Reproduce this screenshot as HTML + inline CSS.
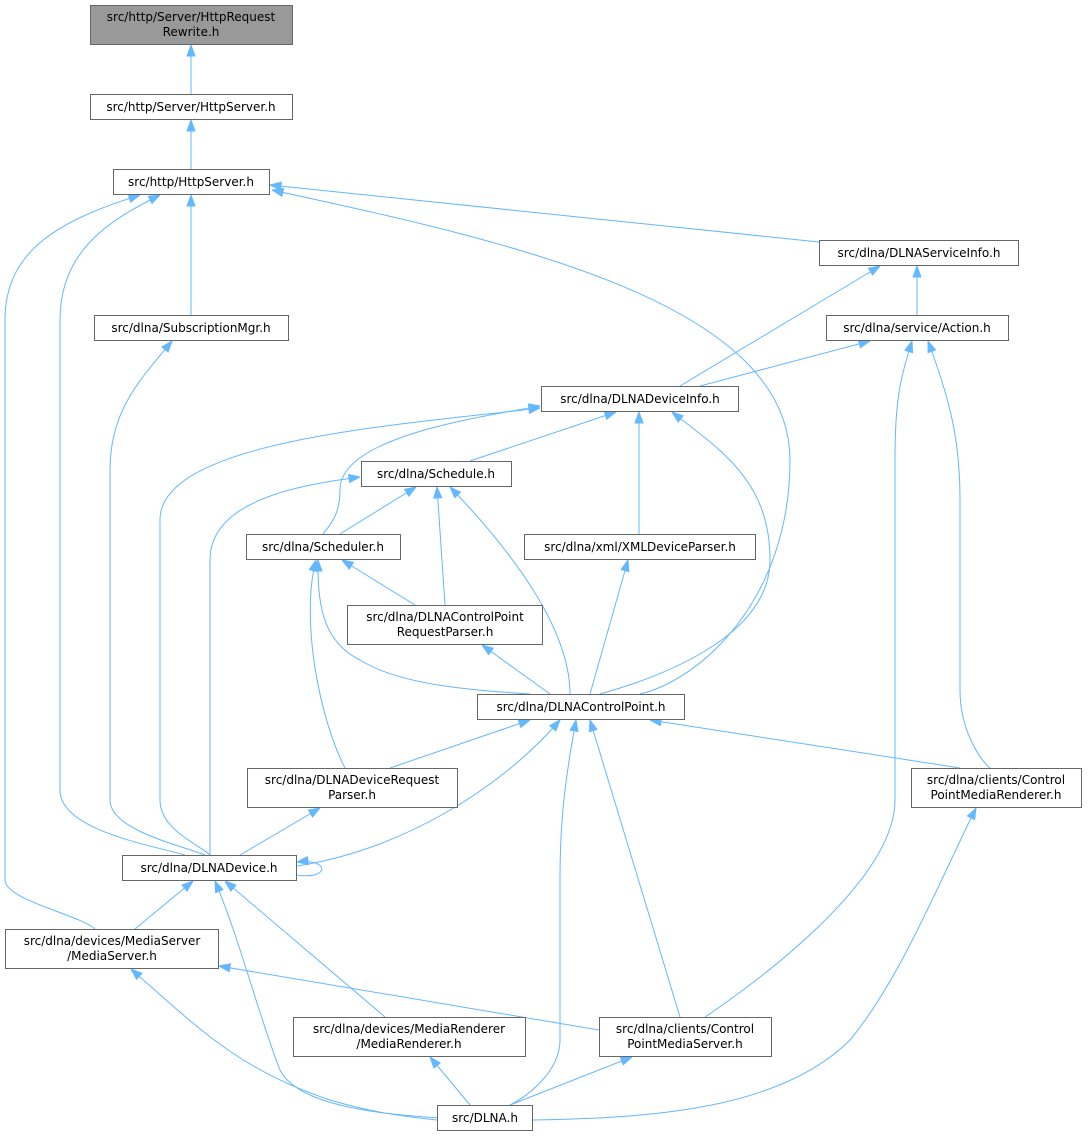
<!DOCTYPE html>
<html><head><meta charset="utf-8"><style>
html,body{margin:0;padding:0;background:#fff;}
svg text{font-family:"DejaVu Sans","Liberation Sans",sans-serif;font-size:12px;fill:#000;}
path.e{fill:none;stroke:#63b8ff;stroke-width:1;marker-start:url(#a);}
</style></head><body>
<svg width="1089" height="1136" viewBox="0 0 1089 1136" xmlns="http://www.w3.org/2000/svg">
<defs>
<marker id="a" markerWidth="12" markerHeight="12" refX="0" refY="5" orient="auto" markerUnits="userSpaceOnUse">
<path d="M11,1 L0,5 L11,9 Z" fill="#63b8ff" stroke="#63b8ff"/>
</marker>
</defs>
<g>
<path class="e" d="M191,45 L191,94"/>
<path class="e" d="M191,120 L191,169"/>
<path class="e" d="M270,185 L819,242"/>
<path class="e" d="M191,195 L191,315"/>
<path class="e" d="M272,190 C500,240 790,300 790,460 C790,600 700,680 640,694"/>
<path class="e" d="M160,195 C110,220 60,250 60,320 L60,790 C60,830 150,845 185,855"/>
<path class="e" d="M140,195 C60,220 5,250 5,320 L5,880 C5,900 80,915 95,929"/>
<path class="e" d="M917,266 L917,315"/>
<path class="e" d="M880,266 L680,386"/>
<path class="e" d="M172,341 C140,380 110,410 110,470 L110,800 C110,830 180,845 205,855"/>
<path class="e" d="M870,341 L700,386"/>
<path class="e" d="M912,341 C900,380 895,400 895,460 L895,800 C895,880 760,980 705,1017"/>
<path class="e" d="M928,341 C950,400 960,440 960,500 L960,690 C960,730 980,760 990,768"/>
<path class="e" d="M616,412 L470,461"/>
<path class="e" d="M540,406 C460,420 340,440 340,490 C340,515 330,525 323,534"/>
<path class="e" d="M639,412 L639,534"/>
<path class="e" d="M672,412 C720,450 770,480 770,560 C770,640 650,680 600,694"/>
<path class="e" d="M540,408 C400,425 160,440 160,520 L160,800 C160,830 200,845 210,855"/>
<path class="e" d="M416,487 L340,534"/>
<path class="e" d="M437,487 L445,605"/>
<path class="e" d="M450,487 C530,570 570,640 570,694"/>
<path class="e" d="M360,477 C300,485 210,500 210,560 L210,855"/>
<path class="e" d="M342,560 L415,605"/>
<path class="e" d="M318,560 C318,600 320,640 360,660 C400,685 470,690 530,694"/>
<path class="e" d="M316,560 C300,620 320,720 345,768"/>
<path class="e" d="M628,560 L590,694"/>
<path class="e" d="M482,645 L550,694"/>
<path class="e" d="M530,720 L390,768"/>
<path class="e" d="M650,720 L960,768"/>
<path class="e" d="M560,720 C500,790 400,850 297,866"/>
<path class="e" d="M590,720 L680,1017"/>
<path class="e" d="M576,720 C565,780 560,820 560,880 L560,1040 C560,1070 530,1095 510,1105"/>
<path class="e" d="M320,808 L240,855"/>
<path class="e" d="M976,808 C940,880 900,980 850,1040 C780,1110 650,1118 533,1120"/>
<path class="e" d="M297,862 C330,858 330,880 297,875"/>
<path class="e" d="M193,881 L135,929"/>
<path class="e" d="M225,881 L385,1017"/>
<path class="e" d="M215,881 C240,940 260,1020 280,1070 C300,1110 400,1115 440,1118"/>
<path class="e" d="M219,966 L599,1030"/>
<path class="e" d="M131,969 C200,1030 240,1070 330,1100 C380,1115 420,1118 437,1120"/>
<path class="e" d="M430,1057 L470,1105"/>
<path class="e" d="M632,1057 L510,1105"/>
</g>
<g stroke="#666" stroke-width="1" fill="#fff">
<rect x="90.5" y="5.5" width="202" height="39" fill="#999"/>
<rect x="90.5" y="94.5" width="202" height="25"/>
<rect x="113.5" y="169.5" width="156" height="25"/>
<rect x="819.5" y="240.5" width="199" height="25"/>
<rect x="94.5" y="315.5" width="194" height="25"/>
<rect x="826.5" y="315.5" width="182" height="25"/>
<rect x="541.5" y="386.5" width="197" height="25"/>
<rect x="361.5" y="461.5" width="150" height="25"/>
<rect x="246.5" y="534.5" width="154" height="25"/>
<rect x="524.5" y="534.5" width="231" height="25"/>
<rect x="347.5" y="605.5" width="195" height="39"/>
<rect x="477.5" y="694.5" width="207" height="25"/>
<rect x="247.5" y="768.5" width="210" height="39"/>
<rect x="911.5" y="768.5" width="170" height="39"/>
<rect x="122.5" y="855.5" width="174" height="25"/>
<rect x="5.5" y="929.5" width="213" height="39"/>
<rect x="293.5" y="1017.5" width="232" height="39"/>
<rect x="599.5" y="1017.5" width="172" height="39"/>
<rect x="437.5" y="1105.5" width="95" height="25"/>
</g>
<g text-anchor="middle">
<text x="191" y="21">src/http/Server/HttpRequest</text><text x="191" y="36">Rewrite.h</text>
<text x="191" y="111">src/http/Server/HttpServer.h</text>
<text x="191" y="186">src/http/HttpServer.h</text>
<text x="919" y="257">src/dlna/DLNAServiceInfo.h</text>
<text x="191" y="332">src/dlna/SubscriptionMgr.h</text>
<text x="917" y="332">src/dlna/service/Action.h</text>
<text x="640" y="403">src/dlna/DLNADeviceInfo.h</text>
<text x="436" y="478">src/dlna/Schedule.h</text>
<text x="323" y="551">src/dlna/Scheduler.h</text>
<text x="640" y="551">src/dlna/xml/XMLDeviceParser.h</text>
<text x="445" y="621">src/dlna/DLNAControlPoint</text><text x="445" y="636">RequestParser.h</text>
<text x="581" y="711">src/dlna/DLNAControlPoint.h</text>
<text x="352" y="784">src/dlna/DLNADeviceRequest</text><text x="352" y="799">Parser.h</text>
<text x="996" y="784">src/dlna/clients/Control</text><text x="996" y="799">PointMediaRenderer.h</text>
<text x="209" y="872">src/dlna/DLNADevice.h</text>
<text x="112" y="945">src/dlna/devices/MediaServer</text><text x="112" y="960">/MediaServer.h</text>
<text x="409" y="1033">src/dlna/devices/MediaRenderer</text><text x="409" y="1048">/MediaRenderer.h</text>
<text x="685" y="1033">src/dlna/clients/Control</text><text x="685" y="1048">PointMediaServer.h</text>
<text x="485" y="1122">src/DLNA.h</text>
</g>
</svg>
</body></html>
